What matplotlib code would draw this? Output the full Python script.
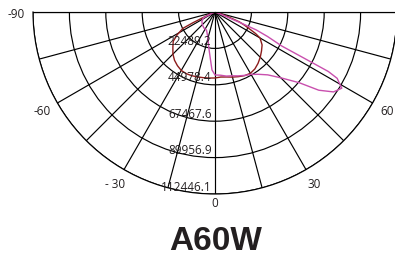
import numpy as np
import matplotlib
matplotlib.use("Agg")
import matplotlib.pyplot as plt

plt.rcParams['font.family'] = ['Open Sans', 'DejaVu Sans']

# radial scale (cd)
r_max = 112446.1
ring_values = [22489.2, 44978.4, 67467.6, 89956.9, 112446.1]
ring_labels = ["22489.2", "44978.4", "67467.6", "89956.9", "112446.1"]

# angle labels (degrees, 0 = straight down); the 90 label falls off the cropped image
angle_ticks = [-90, -60, -30, 0, 30, 60]
angle_labels = ["-90", "-60", "- 30", "0", "30", "60"]

# dark red curve
red_ang = [-90, -75, -68, -64, -63, -59, -55, -50, -45, -40, -35, -30, -25,
           -20, -15, -10, -5, 0, 5, 10, 15, 20, 25, 30, 35, 40, 45, 50, 55,
           60, 62, 64, 66, 68, 70, 73, 80, 90]
red_val = [0, 0, 3090, 15450, 22240, 27180, 31510, 33980, 36760, 38920,
           40470, 41700, 42010, 41890, 41520, 41210, 40960, 40770, 40340,
           40770, 41640, 42500, 43370, 43740, 42940, 41390, 39540, 37500,
           35520, 32130, 28420, 23480, 19770, 16060, 8650, 2470, 0, 0]

# magenta curve
mag_ang = [-90, -80, -68, -63, -55, -45, -35, -25, -15, -10, -6, -3, 0, 5,
           10, 15, 20, 25, 30, 35, 40, 45, 50, 53, 56, 59, 60, 61.5, 62.3,
           62.6, 63, 65, 66.5, 67, 67.5, 70, 75, 90]
mag_val = [0, 0, 2000, 8000, 9900, 11100, 12000, 12400, 16700, 22200, 28400,
           35800, 38900, 39200, 40200, 40800, 42000, 43200, 44500, 47000,
           50700, 57500, 68000, 80300, 88300, 91400, 89000, 85900, 79100,
           61800, 46300, 35800, 27800, 18500, 9300, 3100, 0, 0]

fig = plt.figure(figsize=(3.95, 2.58), dpi=100)
# square box; the half-disk wedge is fitted to its width and centred vertically
ax = fig.add_axes([33 / 395, -27 / 258, 364 / 395, 364 / 258], projection='polar')
ax.set_theta_zero_location('S')
ax.set_theta_direction(1)
ax.set_thetamin(-90)
ax.set_thetamax(90)
ax.set_ylim(0, r_max)

ax.set_xticks(np.radians(np.arange(-90, 91, 15)))
ax.set_yticks(ring_values)
ax.set_xticklabels([])
ax.set_yticklabels([])
ax.grid(True, color='black', lw=0.85)
for name, sp in ax.spines.items():
    sp.set_color('black')
    sp.set_linewidth(0.85)
ax.spines['inner'].set_visible(False)

ax.plot(np.radians(red_ang), red_val, color='#8c1c1c', lw=1.0)
ax.plot(np.radians(mag_ang), mag_val, color='#c94fae', lw=1.0)

txt_color = '#231f20'
for r, lab in zip(ring_values, ring_labels):
    ax.annotate(lab, xy=(0, r), xytext=(-2.5, 2.5), textcoords='offset points',
                ha='right', va='baseline', fontsize=8.5, color=txt_color)

for a, lab in zip(angle_ticks, angle_labels):
    rr = r_max * (1.05 if a == 0 else 1.095)
    dy = -2 if a == -90 else 0
    ax.annotate(lab, xy=(np.radians(a), rr), xytext=(0, dy),
                textcoords='offset points', ha='center', va='center',
                fontsize=8.5, color=txt_color, annotation_clip=False)

fig.text(216 / 395, 8 / 258, "A60W", ha='center', va='baseline',
         fontsize=24, fontweight='bold', family='Liberation Sans', color=txt_color)

fig.savefig("out.png", dpi=100)
